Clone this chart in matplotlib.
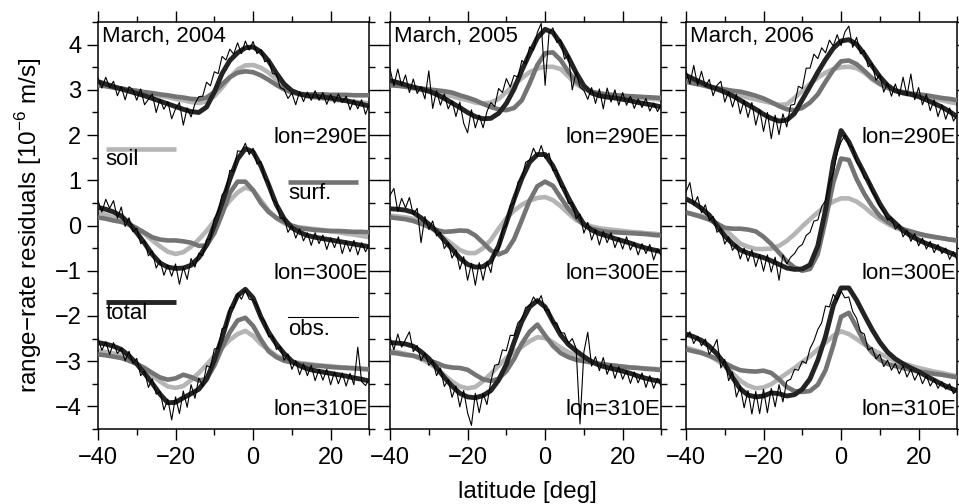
import matplotlib
matplotlib.use("Agg")
import matplotlib.pyplot as plt
from matplotlib.ticker import MultipleLocator

plt.rcParams['font.family'] = ['Liberation Sans', 'DejaVu Sans']
plt.rcParams['mathtext.fontset'] = 'custom'
plt.rcParams['mathtext.rm'] = 'Liberation Sans'

## latitude grids of the model curves and of the observations
lat_fit = list(range(-40, 31, 2))
lat_obs = list(range(-40, 31))

years = [2004, 2005, 2006]
lons = [290, 300, 310]

## March 2004
soil_2004_290 = [3.12, 3.09, 3.06, 3.03, 3.00, 2.97, 2.93, 2.90, 2.87, 2.84, 2.80, 2.77, 2.73, 2.71, 2.74, 2.86, 3.05, 3.27,
                 3.45, 3.54, 3.55, 3.49, 3.38, 3.23, 3.08, 2.96, 2.90, 2.86, 2.83, 2.81, 2.79, 2.77, 2.76, 2.74, 2.72, 2.70]
surf_2004_290 = [3.10, 3.08, 3.05, 3.03, 3.00, 2.98, 2.95, 2.93, 2.90, 2.88, 2.85, 2.83, 2.80, 2.79, 2.83, 2.95, 3.12, 3.28,
                 3.38, 3.41, 3.39, 3.32, 3.22, 3.11, 3.01, 2.94, 2.91, 2.90, 2.90, 2.90, 2.89, 2.89, 2.89, 2.88, 2.88, 2.88]
total_2004_290 = [3.18, 3.13, 3.07, 3.02, 2.97, 2.92, 2.87, 2.81, 2.75, 2.69, 2.63, 2.57, 2.52, 2.50, 2.62, 2.95, 3.36, 3.65,
                  3.82, 3.93, 3.95, 3.84, 3.64, 3.37, 3.13, 2.98, 2.91, 2.87, 2.86, 2.84, 2.82, 2.79, 2.76, 2.72, 2.68, 2.64]
obs_2004_290 = [3.26, 3.04, 3.28, 3.05, 3.19, 2.87, 3.07, 2.78, 3.07, 3.00,
                2.77, 3.02, 2.67, 2.79, 2.91, 2.50, 2.79, 2.57, 2.74, 2.36,
                2.58, 2.72, 2.22, 2.60, 2.40, 2.69, 2.85, 2.86, 3.17, 3.09,
                3.40, 3.36, 3.74, 3.66, 3.90, 3.79, 4.04, 3.80, 4.08, 3.88,
                4.07, 3.80, 3.89, 3.62, 3.66, 3.36, 3.35, 3.05, 3.01, 2.81,
                2.93, 2.67, 2.96, 2.74, 2.95, 2.77, 2.98, 2.77, 2.94, 2.68,
                2.90, 2.71, 2.91, 2.72, 2.86, 2.56, 2.78, 2.58, 2.78, 2.46, 2.69]

soil_2004_300 = [0.29, 0.24, 0.18, 0.13, 0.04, -0.06, -0.18, -0.33, -0.46, -0.58, -0.63, -0.59, -0.47, -0.31, -0.12, 0.10, 0.33, 0.55,
                 0.73, 0.84, 0.78, 0.56, 0.33, 0.16, 0.05, -0.01, -0.04, -0.06, -0.08, -0.10, -0.13, -0.15, -0.18, -0.20, -0.23, -0.26]
surf_2004_300 = [0.18, 0.15, 0.11, 0.08, 0.02, -0.06, -0.16, -0.26, -0.31, -0.33, -0.33, -0.35, -0.38, -0.45, -0.44, -0.17, 0.25, 0.72,
                 0.97, 0.97, 0.78, 0.50, 0.30, 0.17, 0.08, 0.00, -0.06, -0.08, -0.10, -0.11, -0.12, -0.12, -0.13, -0.14, -0.14, -0.15]
total_2004_300 = [0.40, 0.36, 0.30, 0.21, 0.05, -0.16, -0.39, -0.64, -0.83, -0.92, -0.95, -0.94, -0.88, -0.71, -0.43, 0.00, 0.50, 1.02,
                  1.47, 1.70, 1.63, 1.32, 0.90, 0.46, 0.15, -0.05, -0.15, -0.22, -0.26, -0.29, -0.32, -0.35, -0.38, -0.41, -0.44, -0.47]
obs_2004_300 = [0.55, 0.30, 0.58, 0.38, 0.55, 0.16, 0.41, -0.02, 0.17, -0.14,
                -0.06, -0.40, -0.34, -0.67, -0.56, -0.94, -0.77, -1.10, -0.87, -1.12,
                -0.85, -1.30, -0.92, -1.19, -0.73, -0.92, -0.61, -0.67, -0.31, -0.30,
                0.15, 0.30, 0.68, 0.78, 1.22, 1.20, 1.65, 1.64, 1.82, 1.57,
                1.71, 1.36, 1.42, 1.03, 0.96, 0.58, 0.50, 0.16, 0.17, -0.15,
                0.00, -0.28, -0.07, -0.34, -0.16, -0.44, -0.16, -0.40, -0.21, -0.53,
                -0.27, -0.49, -0.25, -0.62, -0.34, -0.58, -0.33, -0.65, -0.38, -0.58, -0.42]

soil_2004_310 = [-2.77, -2.80, -2.83, -2.87, -2.95, -3.05, -3.18, -3.32, -3.45, -3.56, -3.59, -3.55, -3.42, -3.26, -3.08, -2.89, -2.70, -2.53,
                 -2.40, -2.33, -2.44, -2.62, -2.75, -2.88, -2.95, -3.01, -3.04, -3.06, -3.08, -3.10, -3.11, -3.13, -3.14, -3.15, -3.17, -3.18]
surf_2004_310 = [-2.85, -2.87, -2.90, -2.93, -2.99, -3.06, -3.15, -3.26, -3.36, -3.41, -3.38, -3.30, -3.35, -3.43, -3.39, -3.10, -2.70, -2.36,
                 -2.10, -2.04, -2.22, -2.52, -2.78, -2.91, -2.99, -3.03, -3.06, -3.08, -3.10, -3.11, -3.13, -3.14, -3.15, -3.16, -3.17, -3.18]
total_2004_310 = [-2.59, -2.62, -2.67, -2.74, -2.88, -3.06, -3.27, -3.49, -3.73, -3.92, -3.91, -3.81, -3.72, -3.62, -3.40, -2.98, -2.48, -1.92,
                  -1.55, -1.41, -1.60, -2.02, -2.36, -2.62, -2.83, -3.00, -3.10, -3.17, -3.21, -3.24, -3.27, -3.30, -3.33, -3.37, -3.40, -3.44]
obs_2004_310 = [-2.49, -2.76, -2.57, -2.85, -2.59, -2.83, -2.72, -2.99, -2.78, -3.05,
                -2.94, -3.32, -3.22, -3.58, -3.39, -3.73, -3.67, -4.08, -3.84, -4.30,
                -3.79, -4.16, -3.66, -4.02, -3.52, -3.82, -3.37, -3.56, -3.10, -3.14,
                -2.73, -2.71, -2.28, -2.25, -1.82, -1.82, -1.50, -1.63, -1.43, -1.63,
                -1.65, -1.76, -2.04, -2.11, -2.46, -2.44, -2.74, -2.68, -2.98, -2.84,
                -3.18, -2.99, -3.30, -3.06, -3.32, -3.09, -3.43, -3.18, -3.42, -3.18,
                -3.52, -3.24, -3.50, -3.26, -3.55, -3.27, -3.52, -2.69, -3.45, -3.54, -3.39]

## March 2005
soil_2005_290 = [3.14, 3.10, 3.07, 3.03, 3.00, 2.97, 2.93, 2.89, 2.86, 2.81, 2.77, 2.72, 2.70, 2.72, 2.80, 2.95, 3.11, 3.26,
                 3.39, 3.47, 3.51, 3.51, 3.46, 3.30, 3.13, 3.02, 2.95, 2.92, 2.90, 2.88, 2.87, 2.85, 2.83, 2.81, 2.80, 2.78]
surf_2005_290 = [3.10, 3.09, 3.07, 3.05, 3.03, 3.01, 2.99, 2.97, 2.94, 2.88, 2.83, 2.77, 2.69, 2.62, 2.57, 2.55, 2.60, 2.77,
                 3.14, 3.55, 3.81, 3.83, 3.66, 3.40, 3.19, 3.04, 2.96, 2.92, 2.90, 2.88, 2.87, 2.86, 2.85, 2.84, 2.83, 2.82]
total_2005_290 = [3.21, 3.16, 3.11, 3.06, 3.02, 2.97, 2.90, 2.81, 2.71, 2.61, 2.50, 2.41, 2.36, 2.37, 2.48, 2.70, 3.02, 3.43,
                  3.80, 4.15, 4.34, 4.27, 4.03, 3.72, 3.38, 3.09, 2.93, 2.87, 2.84, 2.82, 2.79, 2.76, 2.72, 2.69, 2.66, 2.62]
obs_2005_290 = [3.46, 3.09, 3.46, 3.09, 3.33, 2.94, 3.24, 2.92, 3.07, 2.80,
                3.42, 2.59, 2.98, 2.66, 2.91, 2.58, 2.76, 2.41, 2.73, 2.26,
                2.05, 2.56, 2.16, 2.44, 2.16, 2.52, 2.72, 2.63, 3.03, 2.94,
                3.25, 3.06, 3.32, 3.28, 3.65, 3.57, 3.95, 3.88, 4.27, 4.47,
                3.10, 4.25, 4.37, 4.05, 4.11, 3.68, 3.77, 3.00, 3.40, 3.06,
                2.99, 2.79, 3.05, 2.70, 3.02, 2.58, 3.04, 2.73, 3.00, 2.66,
                2.94, 2.66, 2.86, 2.59, 2.80, 2.61, 2.81, 2.53, 2.71, 2.52, 2.68]

soil_2005_300 = [0.22, 0.20, 0.18, 0.15, 0.06, -0.02, -0.14, -0.28, -0.41, -0.54, -0.61, -0.61, -0.50, -0.32, -0.07, 0.16, 0.33, 0.46,
                 0.55, 0.61, 0.63, 0.56, 0.43, 0.27, 0.12, 0.04, -0.02, -0.06, -0.08, -0.10, -0.12, -0.14, -0.15, -0.17, -0.18, -0.20]
surf_2005_300 = [0.18, 0.16, 0.14, 0.10, 0.04, -0.03, -0.10, -0.14, -0.13, -0.11, -0.12, -0.22, -0.38, -0.55, -0.64, -0.57, -0.30, 0.12,
                 0.55, 0.87, 0.97, 0.88, 0.62, 0.37, 0.17, 0.01, -0.07, -0.11, -0.14, -0.15, -0.16, -0.17, -0.18, -0.19, -0.21, -0.22]
total_2005_300 = [0.37, 0.36, 0.34, 0.29, 0.17, 0.03, -0.13, -0.33, -0.52, -0.72, -0.86, -0.92, -0.91, -0.79, -0.45, 0.06, 0.58, 1.04,
                  1.40, 1.57, 1.57, 1.32, 0.96, 0.61, 0.30, 0.03, -0.10, -0.18, -0.23, -0.29, -0.34, -0.39, -0.45, -0.50, -0.54, -0.58]
obs_2005_300 = [0.67, 0.82, 0.31, 0.60, 0.39, 0.62, 0.24, 0.38, -0.38, 0.20,
                -0.09, 0.10, -0.23, -0.15, -0.51, -0.38, -0.72, -0.54, -0.97, -0.69,
                -1.21, -0.84, -1.32, -0.82, -1.21, -0.80, -1.04, -0.54, -0.57, -0.10,
                0.01, 0.44, 0.50, 0.96, 1.06, 1.40, 1.45, 1.71, 1.52, 1.77,
                1.49, 1.60, 1.22, 1.22, 0.86, 0.84, 0.49, 0.51, 0.15, 0.25,
                -0.17, 0.07, -0.32, -0.09, -0.43, -0.13, -0.38, -0.16, -0.49, -0.27,
                -0.52, -0.25, -0.54, -0.37, -0.65, -0.40, -0.62, -0.42, -0.76, -0.51, -0.68]

soil_2005_310 = [-2.77, -2.80, -2.84, -2.88, -2.95, -3.04, -3.16, -3.31, -3.45, -3.56, -3.60, -3.57, -3.44, -3.28, -3.10, -2.93, -2.80, -2.68,
                 -2.56, -2.47, -2.49, -2.58, -2.70, -2.80, -2.88, -2.95, -3.01, -3.05, -3.08, -3.10, -3.12, -3.14, -3.15, -3.16, -3.17, -3.18]
surf_2005_310 = [-2.81, -2.83, -2.86, -2.88, -2.93, -2.98, -3.04, -3.11, -3.14, -3.15, -3.19, -3.30, -3.40, -3.44, -3.39, -3.22, -2.95, -2.61,
                 -2.35, -2.19, -2.43, -2.66, -2.82, -2.91, -2.97, -3.00, -3.03, -3.06, -3.08, -3.10, -3.12, -3.14, -3.15, -3.17, -3.18, -3.20]
total_2005_310 = [-2.59, -2.60, -2.62, -2.67, -2.79, -2.94, -3.14, -3.36, -3.55, -3.71, -3.79, -3.81, -3.76, -3.65, -3.42, -3.07, -2.58, -2.12,
                  -1.80, -1.66, -1.80, -2.12, -2.42, -2.63, -2.77, -2.90, -3.01, -3.09, -3.14, -3.18, -3.22, -3.27, -3.33, -3.38, -3.42, -3.45]
obs_2005_310 = [-2.47, -2.75, -2.40, -2.69, -2.52, -2.35, -2.79, -2.65, -2.99, -2.82,
                -3.09, -2.99, -3.32, -3.15, -3.56, -3.41, -3.80, -3.55, -4.01, -3.65,
                -4.14, -4.42, -3.71, -4.14, -3.71, -3.96, -3.45, -3.09, -3.07, -2.75,
                -2.77, -2.43, -2.43, -2.15, -2.07, -1.81, -1.78, -1.58, -1.71, -1.55,
                -1.88, -1.86, -2.17, -2.15, -2.37, -2.38, -2.61, -2.50, -2.72, -4.39,
                -2.80, -2.36, -3.11, -2.90, -3.21, -2.92, -3.29, -3.06, -3.38, -3.12,
                -3.40, -3.20, -3.49, -3.24, -3.48, -3.26, -3.58, -3.32, -3.60, -3.38, -3.57]

## March 2006
soil_2006_290 = [3.21, 3.16, 3.11, 3.06, 3.01, 2.97, 2.93, 2.88, 2.83, 2.79, 2.75, 2.71, 2.67, 2.68, 2.82, 2.98, 3.13, 3.27,
                 3.38, 3.46, 3.50, 3.51, 3.48, 3.38, 3.23, 3.12, 3.04, 2.98, 2.94, 2.91, 2.87, 2.84, 2.80, 2.77, 2.73, 2.70]
surf_2006_290 = [3.18, 3.14, 3.11, 3.07, 3.04, 3.01, 2.98, 2.96, 2.92, 2.87, 2.81, 2.73, 2.64, 2.57, 2.55, 2.60, 2.72, 2.90,
                 3.18, 3.44, 3.63, 3.65, 3.57, 3.42, 3.26, 3.14, 3.05, 2.99, 2.95, 2.92, 2.90, 2.88, 2.85, 2.82, 2.80, 2.77]
total_2006_290 = [3.32, 3.24, 3.16, 3.08, 3.02, 2.95, 2.87, 2.77, 2.67, 2.57, 2.46, 2.37, 2.31, 2.33, 2.48, 2.78, 3.08, 3.39,
                  3.67, 3.92, 4.08, 4.11, 4.01, 3.79, 3.53, 3.29, 3.10, 2.98, 2.93, 2.90, 2.85, 2.78, 2.70, 2.62, 2.52, 2.40]
obs_2006_290 = [3.42, 3.13, 3.54, 3.10, 3.41, 3.07, 3.23, 2.87, 3.10, 3.19,
                2.73, 2.96, 2.62, 2.90, 2.47, 2.77, 2.39, 2.72, 2.22, 2.57,
                2.08, 2.50, 1.92, 2.44, 2.01, 2.47, 2.18, 2.66, 2.68, 3.08,
                3.03, 3.48, 3.48, 3.79, 3.69, 3.93, 3.82, 4.10, 3.97, 4.22,
                3.98, 4.28, 4.41, 3.94, 4.16, 3.80, 3.87, 3.51, 3.58, 3.21,
                3.34, 2.95, 3.15, 2.86, 3.13, 2.86, 3.28, 2.87, 3.35, 2.78,
                3.05, 2.67, 2.90, 2.54, 2.78, 2.41, 2.67, 2.35, 2.60, 2.31, 2.45]

soil_2006_300 = [0.29, 0.25, 0.21, 0.16, 0.05, -0.08, -0.24, -0.40, -0.47, -0.52, -0.52, -0.51, -0.45, -0.34, -0.19, -0.02, 0.14, 0.29,
                 0.42, 0.53, 0.60, 0.60, 0.53, 0.41, 0.26, 0.14, 0.04, -0.05, -0.11, -0.16, -0.20, -0.23, -0.26, -0.28, -0.31, -0.33]
surf_2006_300 = [0.29, 0.24, 0.19, 0.13, 0.04, -0.05, -0.07, -0.07, -0.09, -0.13, -0.25, -0.41, -0.60, -0.79, -0.93, -1.00, -0.96, -0.63,
                 0.12, 0.95, 1.48, 1.45, 1.03, 0.70, 0.43, 0.21, 0.08, -0.02, -0.08, -0.13, -0.18, -0.22, -0.25, -0.28, -0.31, -0.33]
total_2006_300 = [0.59, 0.50, 0.38, 0.23, 0.00, -0.23, -0.40, -0.54, -0.61, -0.66, -0.71, -0.78, -0.86, -0.94, -0.97, -0.96, -0.87, -0.45,
                  0.35, 1.40, 2.10, 1.85, 1.48, 1.15, 0.81, 0.48, 0.21, 0.05, -0.11, -0.23, -0.32, -0.40, -0.46, -0.53, -0.60, -0.67]
obs_2006_300 = [0.74, 0.95, 0.45, 0.64, 0.28, 0.46, 0.11, 0.20, -0.15, -0.07,
                -0.41, -0.25, -0.55, -0.42, -0.74, -0.50, -0.79, -0.54, -0.91, -0.64,
                -1.01, -0.65, -1.03, -0.70, -1.21, -0.65, -0.85, -0.70, -0.62, -0.48,
                -0.42, -0.22, -0.15, 0.10, 0.12, 0.42, 0.55, 0.95, 1.15, 1.62,
                1.85, 2.00, 1.78, 1.72, 1.40, 1.30, 1.05, 1.00, 0.75, 0.62,
                0.42, 0.30, 0.12, 0.18, -0.08, 0.02, -0.25, -0.10, -0.35, -0.18,
                -0.45, -0.28, -0.52, -0.35, -0.60, -0.42, -0.62, -0.50, -0.75, -0.58, -0.78]

soil_2006_310 = [-2.70, -2.75, -2.80, -2.88, -2.98, -3.11, -3.27, -3.43, -3.54, -3.60, -3.58, -3.51, -3.39, -3.27, -3.15, -3.02, -2.89, -2.74,
                 -2.59, -2.44, -2.34, -2.40, -2.51, -2.63, -2.74, -2.83, -2.92, -3.00, -3.05, -3.10, -3.15, -3.19, -3.23, -3.26, -3.30, -3.33]
surf_2006_310 = [-2.74, -2.78, -2.82, -2.88, -2.95, -3.04, -3.13, -3.20, -3.22, -3.23, -3.21, -3.26, -3.40, -3.57, -3.66, -3.68, -3.66, -3.52,
                 -3.20, -2.65, -2.02, -1.93, -2.25, -2.58, -2.81, -2.97, -3.06, -3.11, -3.15, -3.19, -3.23, -3.25, -3.28, -3.30, -3.33, -3.36]
total_2006_310 = [-2.40, -2.46, -2.54, -2.67, -2.84, -3.06, -3.36, -3.61, -3.75, -3.79, -3.77, -3.70, -3.72, -3.77, -3.74, -3.62, -3.39, -2.98,
                  -2.45, -1.77, -1.38, -1.38, -1.65, -1.98, -2.30, -2.58, -2.80, -2.95, -3.06, -3.15, -3.23, -3.33, -3.42, -3.51, -3.59, -3.66]
obs_2006_310 = [-2.50, -2.35, -2.61, -2.45, -2.66, -2.51, -2.85, -2.71, -2.52, -3.15,
                -2.96, -3.43, -3.24, -3.79, -3.56, -4.03, -3.65, -4.17, -3.67, -4.16,
                -3.62, -4.14, -3.60, -4.01, -3.52, -3.90, -3.44, -3.40, -3.18, -3.20,
                -3.00, -3.05, -2.72, -2.55, -2.30, -2.15, -1.78, -1.80, -1.52, -1.65,
                -1.45, -1.60, -1.58, -1.90, -2.05, -2.35, -2.40, -2.75, -2.70, -2.95,
                -2.85, -3.12, -2.98, -3.20, -3.05, -3.28, -3.10, -3.35, -3.18, -3.42,
                -3.25, -3.50, -3.32, -3.55, -3.40, -3.60, -3.45, -3.62, -3.50, -3.72, -3.60]

series = {
    2004: {290: (soil_2004_290, surf_2004_290, total_2004_290, obs_2004_290),
           300: (soil_2004_300, surf_2004_300, total_2004_300, obs_2004_300),
           310: (soil_2004_310, surf_2004_310, total_2004_310, obs_2004_310)},
    2005: {290: (soil_2005_290, surf_2005_290, total_2005_290, obs_2005_290),
           300: (soil_2005_300, surf_2005_300, total_2005_300, obs_2005_300),
           310: (soil_2005_310, surf_2005_310, total_2005_310, obs_2005_310)},
    2006: {290: (soil_2006_290, surf_2006_290, total_2006_290, obs_2006_290),
           300: (soil_2006_300, surf_2006_300, total_2006_300, obs_2006_300),
           310: (soil_2006_310, surf_2006_310, total_2006_310, obs_2006_310)},
}

SOIL = "#b5b5b5"
SURF = "#747474"
TOTAL = "#232323"
OBS = "black"
lon_text_y = {290: 1.95, 300: -1.07, 310: -4.06}

fig = plt.figure(figsize=(9.59, 5.04), dpi=100)
lefts = [0.1022, 0.4067, 0.7153]
axes = [fig.add_axes([l, 0.1488, 0.2830, 0.8075]) for l in lefts]

for i, (ax, year) in enumerate(zip(axes, years)):
    for lon in lons:
        soil, surf, total, obs = series[year][lon]
        ax.plot(lat_fit, soil, color=SOIL, lw=3.3, solid_capstyle='butt', zorder=2)
        ax.plot(lat_fit, surf, color=SURF, lw=3.3, solid_capstyle='butt', zorder=3)
        ax.plot(lat_fit, total, color=TOTAL, lw=3.5, solid_capstyle='butt', zorder=4)
        ax.plot(lat_obs, obs, color=OBS, lw=0.8, zorder=5)
        ax.text(29.7, lon_text_y[lon], f"lon={lon}E", ha='right', va='center', fontsize=16)
    ax.text(-39, 4.17, f"March, {year}", ha='left', va='center', fontsize=16)

    ax.set_xlim(-40, 30)
    ax.set_ylim(-4.5, 4.5)
    ax.xaxis.set_major_locator(MultipleLocator(20))
    ax.xaxis.set_minor_locator(MultipleLocator(10))
    ax.yaxis.set_major_locator(MultipleLocator(1))
    ax.yaxis.set_minor_locator(MultipleLocator(0.5))
    ax.tick_params(which='both', direction='out', top=True, right=True, width=1.0, labelsize=17)
    ax.tick_params(which='major', length=8)
    ax.tick_params(which='minor', length=4.3)
    ax.tick_params(axis='x', which='major', pad=5)
    ax.tick_params(axis='y', which='major', pad=4)
    for sp in ax.spines.values():
        sp.set_linewidth(1.1)
    if i > 0:
        ax.tick_params(labelleft=False)

## legend entries drawn inside the first panel
ax = axes[0]
ax.plot([-38, -20], [1.70, 1.70], color=SOIL, lw=3.3, solid_capstyle='butt')
ax.text(-38, 1.45, "soil", ha='left', va='center', fontsize=16)
ax.plot([9, 27], [0.97, 0.97], color=SURF, lw=3.3, solid_capstyle='butt')
ax.text(9, 0.70, "surf.", ha='left', va='center', fontsize=16)
ax.plot([-38, -20], [-1.70, -1.70], color=TOTAL, lw=3.5, solid_capstyle='butt')
ax.text(-38, -1.95, "total", ha='left', va='center', fontsize=16)
ax.plot([9, 27], [-2.02, -2.02], color=OBS, lw=0.8)
ax.text(9, -2.30, "obs.", ha='left', va='center', fontsize=16)

ax.set_ylabel("range\u2212rate residuals [10$^{\u22126}$ m/s]", fontsize=17.5)
ax.yaxis.set_label_coords(-0.198, 0.5)
fig.text(527 / 959, 1 - 492 / 504, "latitude [deg]", ha='center', va='center', fontsize=17.5)

fig.savefig("out.png", dpi=100)
